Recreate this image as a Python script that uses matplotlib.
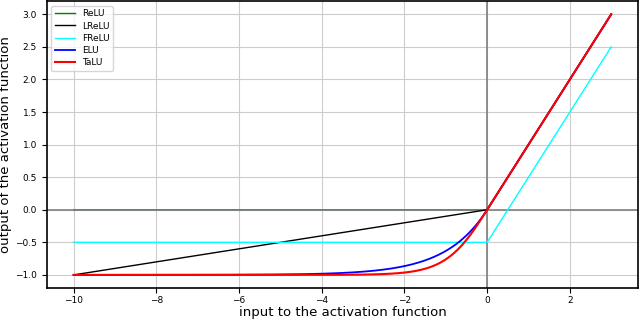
import numpy as np
import matplotlib
matplotlib.use("Agg")
import matplotlib.pyplot as plt

x_min, x_max = -10.0, 3.0
labels = ["ReLU", "LReLU", "FReLU", "ELU", "TaLU"]
colors = ["green", "black", "cyan", "blue", "red"]
lrelu_slope = 0.1
frelu_shift = -0.5

x = np.linspace(x_min, x_max, 1000)
relu = np.maximum(x, 0)
lrelu = np.where(x > 0, x, lrelu_slope * x)
frelu = np.maximum(x, 0) + frelu_shift
elu = np.where(x > 0, x, np.exp(x) - 1)
talu = np.where(x > 0, x, np.tanh(x))
series = [relu, lrelu, frelu, elu, talu]
widths = [1.0, 1.0, 1.0, 1.3, 1.5]
zorders = [1.8, 2.2, 2.2, 2.2, 2.3]

fig = plt.figure(figsize=(6.4, 3.21), dpi=100)
ax = fig.add_axes([0.073, 0.103, 0.924, 0.893])
ax.grid(True, color="#cccccc", linewidth=0.8)
ax.axhline(0, color="gray", linewidth=1.2, zorder=2.0)
ax.axvline(0, color="gray", linewidth=1.2, zorder=2.0)
for y, lab, c, w, z in zip(series, labels, colors, widths, zorders):
    ax.plot(x, y, color=c, label=lab, linewidth=w, zorder=z)
ax.set_xlabel("input to the activation function", fontsize=9.5)
ax.set_ylabel("output of the activation function", fontsize=9.5)
ax.xaxis.set_label_coords(0.5, -0.063)
ax.yaxis.set_label_coords(-0.058, 0.5)
ax.tick_params(labelsize=6.5)
ax.tick_params(axis="x", pad=2.5)
ax.set_yticks(np.arange(-1.0, 3.01, 0.5))
ax.legend(loc="upper left", fontsize=6.5, handlelength=2.2, labelspacing=0.35)
for s in ax.spines.values():
    s.set_linewidth(1.2)
fig.savefig("out.png", dpi=100)
